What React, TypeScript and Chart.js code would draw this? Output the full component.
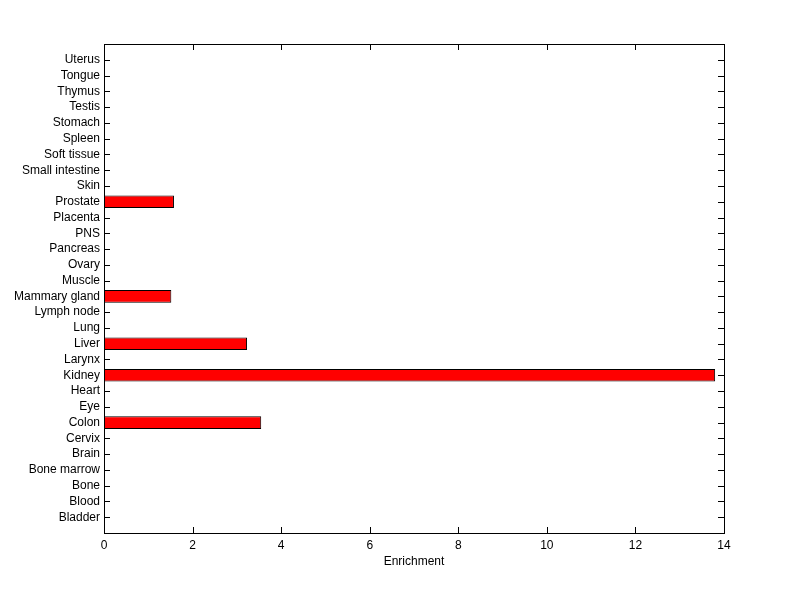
import React, { useEffect, useRef } from "react";
import { Chart, registerables } from "chart.js";

Chart.register(...registerables);

const categories = [
  "Bladder", "Blood", "Bone", "Bone marrow", "Brain", "Cervix", "Colon", "Eye", "Heart", "Kidney",
  "Larynx", "Liver", "Lung", "Lymph node", "Mammary gland", "Muscle", "Ovary", "Pancreas", "PNS",
  "Placenta", "Prostate", "Skin", "Small intestine", "Soft tissue", "Spleen", "Stomach", "Testis",
  "Thymus", "Tongue", "Uterus",
];
const enrichment = [
  0, 0, 0, 0, 0, 0, 3.55, 0, 0, 13.8,
  0, 3.23, 0, 0, 1.52, 0, 0, 0, 0,
  0, 1.58, 0, 0, 0, 0, 0, 0,
  0, 0, 0,
];
const xTicks = [0, 2, 4, 6, 8, 10, 12, 14];
const xTitle = "Enrichment";

const FONT = { family: "'Liberation Sans', Arial, sans-serif", size: 12 };

const frame = {
  id: "frame",
  beforeDatasetsDraw(chart: any) {
    const { ctx, chartArea: a } = chart;
    const xs = chart.scales.x;
    const ys = chart.scales.y;
    ctx.save();
    ctx.strokeStyle = "#000";
    ctx.lineWidth = 1;
    const tl = 6;
    ctx.beginPath();
    xTicks.forEach((v) => {
      const px = Math.round(xs.getPixelForValue(v)) + 0.5;
      ctx.moveTo(px, a.bottom);
      ctx.lineTo(px, a.bottom - tl);
      ctx.moveTo(px, a.top);
      ctx.lineTo(px, a.top + tl);
    });
    categories.forEach((_, i) => {
      const py = Math.round(ys.getPixelForValue(i + 1)) + 0.5;
      ctx.moveTo(a.left, py);
      ctx.lineTo(a.left + tl, py);
      ctx.moveTo(a.right, py);
      ctx.lineTo(a.right - tl, py);
    });
    ctx.stroke();
    ctx.restore();
  },
  afterDraw(chart: any) {
    const { ctx, chartArea: a } = chart;
    ctx.save();
    ctx.strokeStyle = "#000";
    ctx.lineWidth = 1;
    ctx.strokeRect(Math.round(a.left) + 0.5, Math.round(a.top) + 0.5, Math.round(a.right - a.left), Math.round(a.bottom - a.top));
    ctx.restore();
  },
};

export default function App() {
  const ref = useRef<HTMLCanvasElement>(null);
  useEffect(() => {
    document.body.style.margin = "0";
    const labels = ["", ...categories, ""];
    const data = [null, ...enrichment, null];
    const chart = new Chart(ref.current!, {
      type: "bar",
      data: {
        labels,
        datasets: [
          {
            data: data as any,
            backgroundColor: "#ff0000",
            borderColor: "#000000",
            borderWidth: 1,
            borderSkipped: false,
            categoryPercentage: 1,
            barPercentage: 0.8,
          },
        ],
      },
      plugins: [frame],
      options: {
        indexAxis: "y",
        animation: false,
        responsive: false,
        maintainAspectRatio: false,
        layout: { padding: { top: 44, right: 76, left: 0, bottom: 30 } },
        plugins: { legend: { display: false }, tooltip: { enabled: false } },
        scales: {
          x: {
            type: "linear",
            min: 0,
            max: 14,
            grid: { display: false, drawTicks: false },
            border: { display: false },
            afterBuildTicks: (s: any) => {
              s.ticks = xTicks.map((v) => ({ value: v }));
            },
            afterFit: (s: any) => {
              s.height = 36;
            },
            ticks: { color: "#000", font: FONT, padding: 5, maxRotation: 0 },
            title: { display: true, text: xTitle, color: "#000", font: FONT, padding: { top: 2, bottom: 0 } },
          },
          y: {
            type: "category",
            reverse: true,
            offset: false,
            grid: { display: false, drawTicks: false },
            border: { display: false },
            afterFit: (s: any) => {
              s.width = 104;
            },
            ticks: { color: "#000", font: FONT, padding: 4, autoSkip: false },
          },
        },
      },
    });
    return () => chart.destroy();
  }, []);
  return (
    <div style={{ position: "absolute", left: 0, top: 0, width: 800, height: 599, background: "#fff" }}>
      <canvas ref={ref} width={800} height={599} style={{ width: 800, height: 599 }} />
    </div>
  );
}
